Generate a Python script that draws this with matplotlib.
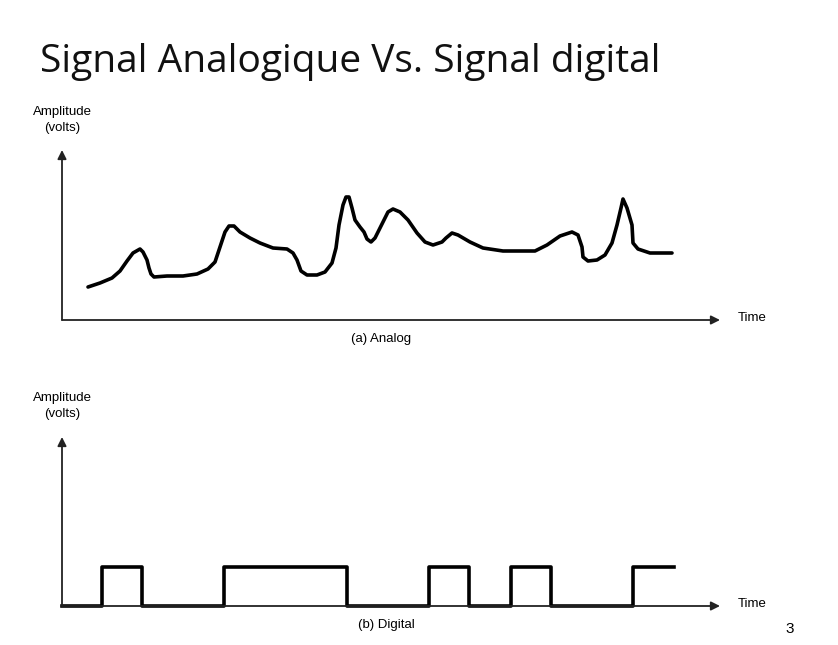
import numpy as np
import matplotlib.pyplot as plt

# analog signal (time units, amplitude units)
analog_t = [26, 38, 50, 58, 65, 71, 78, 81, 85, 87, 89, 92, 105, 121, 135, 146,
            153, 158, 163, 167, 172, 178, 188, 198, 211, 225, 231, 235, 239, 245,
            255, 263, 270, 274, 277, 281, 284, 287, 290, 293, 298, 302, 305, 309,
            313, 320, 326, 331, 338, 346, 355, 363, 371, 380, 384, 390, 396, 408,
            421, 441, 473, 485, 498, 510, 516, 520, 521, 526, 535, 543, 550, 555,
            559, 561, 565, 570, 571, 576, 588, 610]
analog_a = [33, 37, 42, 49, 59, 67, 71, 68, 60, 52, 46, 43, 44, 44, 46, 51,
            58, 73, 88, 94, 94, 88, 82, 77, 72, 71, 67, 60, 49, 45,
            45, 48, 57, 72, 95, 115, 123, 123, 112, 100, 93, 88, 81, 78,
            82, 96, 108, 111, 108, 100, 87, 78, 75, 78, 82, 87, 85, 78,
            72, 69, 69, 75, 84, 88, 85, 73, 63, 59, 60, 65, 77, 95,
            112, 121, 112, 95, 77, 71, 67, 67]

# digital signal: transition times and levels
digital_t = [0, 40, 80, 162, 285, 367, 407, 449, 489, 571, 612]
digital_v = [0, 1, 0, 1, 0, 1, 0, 1, 0, 1, 1]
high_level = 39

W, H = 838, 645
fig = plt.figure(figsize=(W / 100, H / 100), dpi=100)

lab_font = 'Liberation Sans'


def panel(top_px, bottom_px, zero_px):
    ax = fig.add_axes([0, (H - bottom_px) / H, 1, (bottom_px - top_px) / H])
    ax.set_xlim(-62, W - 62)
    ax.set_ylim(zero_px - bottom_px, zero_px - top_px)
    ax.axis('off')
    return ax


def axes_arrows(ax, ytip, xtip):
    for tip in [(0, ytip), (xtip, 0)]:
        ax.annotate('', xy=tip, xytext=(0, 0),
                    arrowprops=dict(arrowstyle='-|>', mutation_scale=13, lw=1.3,
                                    color='#222222', shrinkA=0, shrinkB=0))


def labels(ax, caption, cx):
    ax.text(0, 208, 'Amplitude', ha='center', va='center', fontsize=9.5, family=lab_font)
    ax.text(0, 192, '(volts)', ha='center', va='center', fontsize=9.5, family=lab_font)
    ax.text(676, 2, 'Time', ha='left', va='center', fontsize=9.5, family=lab_font)
    ax.text(cx, -19, caption, ha='center', va='center', fontsize=9.5, family=lab_font)


# top panel: analog
ax1 = panel(95, 350, 320)
axes_arrows(ax1, 170, 658)
ax1.plot(analog_t, analog_a, color='black', lw=2.6,
         solid_capstyle='round', solid_joinstyle='round')
labels(ax1, '(a) Analog', 319)

# bottom panel: digital
ax2 = panel(380, 640, 606)
axes_arrows(ax2, 169, 658)
ax2.step(digital_t, np.array(digital_v) * high_level, where='post',
         color='black', lw=2.6)
labels(ax2, '(b) Digital', 324)

fig.text(40 / W, 1 - 62 / H, 'Signal Analogique Vs. Signal digital',
         ha='left', va='center', fontsize=28, family='Open Sans', color='#111111')
fig.text(790 / W, 1 - 629 / H, '3', ha='center', va='center', fontsize=11,
         family=lab_font)

fig.savefig('out.png', dpi=100)
